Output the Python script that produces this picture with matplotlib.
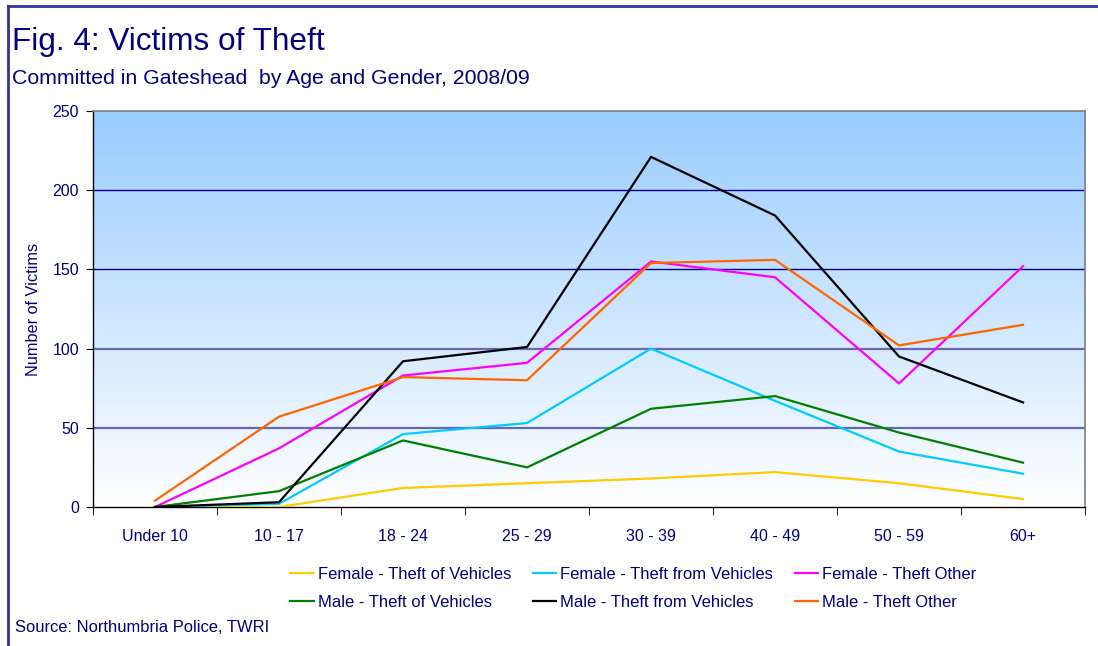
import numpy as np
import matplotlib.pyplot as plt
from matplotlib.lines import Line2D

plt.rcParams['font.family'] = ['Liberation Sans', 'DejaVu Sans']

navy = '#000080'

age_groups = ['Under 10', '10 - 17', '18 - 24', '25 - 29', '30 - 39', '40 - 49', '50 - 59', '60+']

female_theft_of_vehicles = [0, 0, 12, 15, 18, 22, 15, 5]
female_theft_from_vehicles = [0, 2, 46, 53, 100, 67, 35, 21]
female_theft_other = [0, 37, 83, 91, 155, 145, 78, 152]
male_theft_of_vehicles = [0, 10, 42, 25, 62, 70, 47, 28]
male_theft_from_vehicles = [0, 3, 92, 101, 221, 184, 95, 66]
male_theft_other = [4, 57, 82, 80, 154, 156, 102, 115]

y_ticks = [0, 50, 100, 150, 200, 250]

fig = plt.figure(figsize=(10.98, 6.46), dpi=100)
ax = fig.add_axes([0.0847, 0.2152, 0.9035, 0.6130])

x = np.arange(len(age_groups))
ax.set_xlim(-0.5, len(age_groups) - 0.5)
ax.set_ylim(0, 250)

# gradient background, light blue at top to white at bottom
grad = np.linspace(0, 1, 256).reshape(-1, 1)
top = np.array([0x99, 0xCC, 0xFF]) / 255
bottom = np.array([1.0, 1.0, 1.0])
img = bottom + (top - bottom) * grad[:, :, None] * np.ones((1, 1, 3))
ax.imshow(img, extent=[-0.5, len(age_groups) - 0.5, 0, 250], origin='lower',
          aspect='auto', zorder=0)

# gridlines
for v in [50, 100]:
    ax.axhline(v, color='#6868b0', lw=1.6, zorder=1)
for v in [150, 200]:
    ax.axhline(v, color=navy, lw=1.0, zorder=1)

series = [
    ('Female - Theft of Vehicles', female_theft_of_vehicles, '#FFCC00'),
    ('Male - Theft of Vehicles', male_theft_of_vehicles, '#008000'),
    ('Female - Theft from Vehicles', female_theft_from_vehicles, '#00CCFF'),
    ('Male - Theft from Vehicles', male_theft_from_vehicles, '#000000'),
    ('Female - Theft Other', female_theft_other, '#FF00FF'),
    ('Male - Theft Other', male_theft_other, '#FF6600'),
]
draw_order = [0, 2, 4, 1, 3, 5]
handles = {}
for i in draw_order:
    name, vals, col = series[i]
    h, = ax.plot(x, vals, color=col, lw=1.6, zorder=3, label=name)
    handles[i] = h

for side in ['top', 'right']:
    ax.spines[side].set_color('#808080')
    ax.spines[side].set_linewidth(1.2)
for side in ['left', 'bottom']:
    ax.spines[side].set_color('black')
    ax.spines[side].set_linewidth(1.0)

ax.set_yticks(y_ticks)
ax.tick_params(axis='y', direction='out', length=5, pad=5, labelsize=11.5,
               labelcolor=navy, color='black')
ax.set_xticks(x)
ax.set_xticklabels(age_groups)
ax.set_xticks(np.arange(-0.5, len(age_groups)), minor=True)
ax.tick_params(axis='x', which='major', length=0, pad=16, labelsize=11.5,
               labelcolor=navy)
ax.tick_params(axis='x', which='minor', direction='out', length=6, color='black')
ax.set_ylabel('Number of Victims', color=navy, fontsize=11.7, labelpad=8)

fig.text(0.011, 0.935, 'Fig. 4: Victims of Theft', color=navy, fontsize=22.7,
         va='center', ha='left')
fig.text(0.011, 0.879, 'Committed in Gateshead  by Age and Gender, 2008/09',
         color=navy, fontsize=15.3, va='center', ha='left')
fig.text(0.014, 0.028, 'Source: Northumbria Police, TWRI', color=navy,
         fontsize=11.9, va='center', ha='left')

leg = fig.legend([handles[i] for i in range(6)], [s[0] for s in series],
                 ncol=3, loc='center', bbox_to_anchor=(0.577, 0.089),
                 frameon=False, fontsize=12, handlelength=1.4,
                 handletextpad=0.25, columnspacing=1.3, labelspacing=0.75)
for t in leg.get_texts():
    t.set_color(navy)

# frame around the figure (left and top edges)
fig.add_artist(Line2D([0.0075, 0.0075], [0, 0.991], color='#333399', lw=2,
                      transform=fig.transFigure))
fig.add_artist(Line2D([0.0075, 1.0], [0.991, 0.991], color='#333399', lw=2,
                      transform=fig.transFigure))

fig.savefig('out.png', dpi=100)
